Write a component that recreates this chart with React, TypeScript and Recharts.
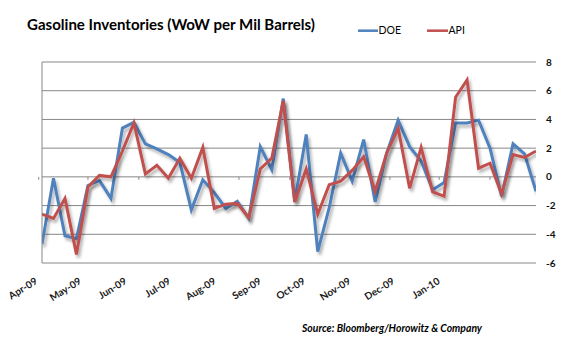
import React from 'react';
import { LineChart, Line, XAxis, YAxis, CartesianGrid, ReferenceDot } from 'recharts';

// Weekly observations, first week ending 2009-04-03
const firstWeek = '2009-04-03';

const doeValues = [
  -4.7, -0.1, -4.1, -4.3, -0.6, -0.25, -1.5, 3.4, 3.8, 2.3,
  1.95, 1.55, 1.0, -2.3, -0.2, -1.1, -2.2, -1.7, -2.9, 2.1,
  0.5, 5.45, -1.7, 2.95, -5.2, -2.15, 1.65, -0.3, 2.6, -1.75,
  1.65, 3.95, 2.1, 1.1, -0.9, -0.4, 3.75, 3.75, 3.95, 2.0,
  -1.35, 2.3, 1.6, -1.0,
];

const apiValues = [
  -2.6, -2.9, -1.5, -5.4, -0.7, 0.1, 0.0, 1.8, 3.75, 0.2,
  0.8, -0.1, 1.3, -0.1, 2.05, -2.2, -1.9, -1.85, -2.85, 0.55,
  1.3, 5.3, -1.75, 0.55, -2.6, -0.55, -0.3, 0.45, 1.4, -1.0,
  1.65, 3.4, -0.8, 2.05, -1.05, -1.35, 5.55, 6.75, 0.6, 0.95,
  -1.2, 1.55, 1.35, 1.8,
];

const monthLabels = ['Apr-09', 'May-09', 'Jun-09', 'Jul-09', 'Aug-09', 'Sep-09', 'Oct-09', 'Nov-09', 'Dec-09', 'Jan-10'];
const monthStarts = ['2009-04-01', '2009-05-01', '2009-06-01', '2009-07-01', '2009-08-01', '2009-09-01', '2009-10-01', '2009-11-01', '2009-12-01', '2010-01-01'];
const yTicks = [-6, -4, -2, 0, 2, 4, 6, 8];

const DAY = 86400000;
const t0 = Date.parse(firstWeek);
const monthPos = monthStarts.map((d) => (Date.parse(d) - t0) / (7 * DAY));
const data = doeValues.map((v, i) => ({ week: i, doe: v, api: apiValues[i] }));

const GRID = '#878787';
const BLUE = '#4F81BD';
const RED = '#C0504D';
const FONT = 'Lato, "Open Sans", sans-serif';
const PLOT_LEFT = 42;

const XTick = (props: any) => {
  const { x, index } = props;
  const lx = PLOT_LEFT + (x - PLOT_LEFT) * 0.892 - 1;
  const ly = 283;
  return (
    <text
      x={lx}
      y={ly}
      transform={`rotate(-32 ${lx} ${ly})`}
      textAnchor="end"
      fontFamily={FONT}
      fontWeight={700}
      fontSize={10}
      fill="#1a1a1a"
    >
      {monthLabels[index]}
    </text>
  );
};

const YTick = (props: any) => {
  const { x, y, payload } = props;
  return (
    <text x={x} y={y} dy={3.5} textAnchor="start" fontFamily={FONT} fontWeight={700} fontSize={10} fill="#111">
      {payload.value}
    </text>
  );
};

const Empty = () => <g />;

const TickMark = (props: any) => {
  const { cx, cy } = props;
  if (cx == null || cy == null) return <g />;
  return <line x1={cx} y1={cy} x2={cx} y2={cy + 3} stroke={GRID} strokeWidth={1} />;
};

export default function App() {
  return (
    <div style={{ position: 'relative', width: 585, height: 346, background: '#fff' }}>
      <style>{`body{margin:0;}`}</style>
      <LineChart width={585} height={346} data={data} margin={{ top: 62, right: 0, bottom: 0, left: 0 }}>
        <defs>
          <filter id="shadow" x="-5%" y="-5%" width="115%" height="120%">
            <feDropShadow dx="2" dy="3" stdDeviation="1.5" floodColor="#000" floodOpacity="0.3" />
          </filter>
        </defs>
        <CartesianGrid yAxisId="R" horizontal vertical={false} stroke={GRID} strokeWidth={1} />
        <XAxis
          dataKey="week"
          type="number"
          domain={[0, 43]}
          ticks={monthPos}
          interval={0}
          height={83}
          axisLine={false}
          tickLine={false}
          tick={<XTick />}
          allowDataOverflow
        />
        <YAxis
          yAxisId="L"
          orientation="left"
          width={42}
          domain={[-6, 8]}
          ticks={yTicks}
          axisLine={{ stroke: GRID, strokeWidth: 1 }}
          tickLine={{ stroke: GRID, strokeWidth: 1 }}
          tickSize={4}
          tick={<Empty />}
        />
        <YAxis
          yAxisId="R"
          orientation="right"
          width={49}
          domain={[-6, 8]}
          ticks={yTicks}
          axisLine={false}
          tickLine={false}
          tickSize={0}
          tickMargin={10}
          tick={<YTick />}
        />
        {monthPos.map((m, i) => (
          <ReferenceDot key={i} yAxisId="R" x={m} y={0} ifOverflow="visible" shape={<TickMark />} />
        ))}
        <Line
          yAxisId="R"
          type="linear"
          dataKey="doe"
          stroke={BLUE}
          strokeWidth={3}
          dot={false}
          isAnimationActive={false}
          filter="url(#shadow)"
        />
        <Line
          yAxisId="R"
          type="linear"
          dataKey="api"
          stroke={RED}
          strokeWidth={3}
          dot={false}
          isAnimationActive={false}
          filter="url(#shadow)"
        />
      </LineChart>
      <svg width={585} height={346} style={{ position: 'absolute', left: 0, top: 0, pointerEvents: 'none' }}>
        <text x={27} y={30} fontFamily={FONT} fontWeight={700} fontSize={16} fill="#000" textLength={288} lengthAdjust="spacingAndGlyphs">
          Gasoline Inventories (WoW per Mil Barrels)
        </text>
        <line x1={358} y1={30.7} x2={378} y2={30.7} stroke={BLUE} strokeWidth={2.5} />
        <text x={378.5} y={34} fontFamily={FONT} fontSize={10.5} fill="#000">DOE</text>
        <line x1={427} y1={30.7} x2={448} y2={30.7} stroke={RED} strokeWidth={2.5} />
        <text x={448.5} y={34} fontFamily={FONT} fontSize={10.5} fill="#000">API</text>
        <text x={302} y={332} fontFamily={FONT} fontWeight={700} fontStyle="italic" fontSize={11} fill="#000" textLength={180} lengthAdjust="spacingAndGlyphs">
          Source: Bloomberg/Horowitz &amp; Company
        </text>
      </svg>
    </div>
  );
}
